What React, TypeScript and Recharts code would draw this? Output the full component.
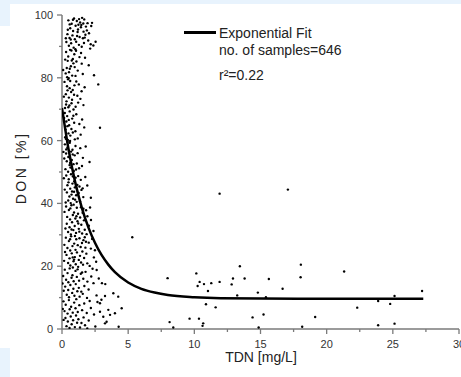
import React from 'react';
import { ScatterChart, Scatter, XAxis, YAxis } from 'recharts';

// Axis ticks (major + minor)
const xTicks = [0, 2.5, 5, 7.5, 10, 12.5, 15, 17.5, 20, 22.5, 25, 27.5, 30];
const yTicks = [0, 10, 20, 30, 40, 50, 60, 70, 80, 90, 100];

// Exponential fit curve
const fitX = [0, 0.5, 1, 1.5, 2, 2.5, 3, 3.5, 4, 5, 6, 7, 8, 10, 12, 15, 20, 27.3];
const fitY = [70.4, 57.1, 46.7, 38.6, 32.3, 27.4, 23.5, 20.5, 18.1, 14.8, 12.8, 11.6, 10.8, 10.1, 9.8, 9.7, 9.65, 9.65];

// Samples, upper part of the dense cluster (DON 60-100 %)
const upperCluster: [number, number][] = [
  [0.48, 98.3], [0.73, 97.2], [0.91, 98.9], [1.12, 98.1], [1.37, 97.6], [1.52, 99.1], [1.68, 98.6], [1.93, 97.4], [2.21, 96.5],
  [0.62, 95.8], [0.84, 94.9], [1.03, 96.6], [1.21, 95.4], [1.43, 96.1], [1.63, 94.7], [1.81, 96.3], [2.04, 94.2], [0.41, 93.9],
  [0.57, 92.7], [0.79, 93.5], [0.97, 92.3], [1.18, 94.6], [1.33, 93.0], [1.58, 92.6], [1.77, 93.7], [1.98, 91.9], [0.33, 91.4],
  [0.52, 90.2], [0.69, 91.0], [0.88, 89.6], [1.07, 91.5], [1.28, 90.5], [1.49, 89.9], [1.66, 91.1], [2.13, 89.3], [0.44, 95.3],
  [0.66, 92.2], [1.14, 93.3], [1.29, 98.7], [1.61, 97.3], [0.83, 98.5], [1.88, 95.1], [0.29, 92.6], [1.01, 89.1], [2.37, 90.3],
  [1.46, 96.8], [1.72, 92.8], [2.17, 90.7], [2.27, 97.5], [2.54, 91.5], [0.58, 97.0], [1.24, 96.9],
  [0.31, 88.2], [0.47, 86.8], [0.61, 88.9], [0.82, 86.0], [0.43, 85.4], [0.67, 83.7], [0.93, 87.5], [1.09, 85.2], [0.36, 83.1],
  [0.53, 81.8], [0.77, 80.7], [0.39, 80.2], [0.96, 83.4], [1.32, 86.6], [1.49, 84.5], [0.71, 88.7], [0.24, 85.8], [1.19, 82.3],
  [1.02, 80.6], [0.59, 82.9], [0.86, 84.6], [1.44, 87.9], [1.74, 86.4], [0.09, 82.5], [0.51, 79.9], [1.57, 81.2], [2.02, 84.0],
  [0.28, 81.4], [0.74, 85.5], [1.06, 88.6], [2.42, 80.8], [2.74, 77.9],
  [0.19, 78.7], [0.38, 77.3], [0.62, 79.0], [0.81, 76.1], [0.29, 74.8], [0.52, 73.7], [0.69, 75.5], [0.94, 77.6], [1.16, 74.3],
  [0.34, 72.5], [0.56, 71.2], [0.76, 73.0], [1.03, 70.8], [0.23, 70.4], [0.46, 79.5], [1.27, 77.9], [1.48, 75.7], [0.87, 69.9],
  [1.22, 72.1], [0.58, 76.7], [0.14, 74.0], [1.39, 73.3], [0.91, 74.6], [0.48, 70.6], [1.71, 77.0], [0.31, 71.5], [1.08, 78.8],
  [0.72, 71.9], [1.62, 71.3], [0.42, 76.0],
  [0.21, 68.8], [0.39, 67.8], [0.58, 69.3], [0.33, 66.1], [0.54, 64.9], [0.77, 67.0], [0.27, 63.5], [0.49, 62.3], [0.71, 63.7],
  [0.92, 65.7], [0.24, 61.1], [0.44, 60.2], [0.63, 61.6], [1.08, 68.4], [1.31, 65.3], [0.82, 62.6], [1.01, 63.0], [1.19, 60.7],
  [0.41, 64.6], [0.16, 67.2], [0.86, 67.9], [1.52, 66.7], [0.61, 59.9], [1.41, 61.9], [0.29, 60.6], [0.97, 60.4], [1.68, 64.2],
  [0.51, 66.6], [2.87, 64.1],
];

// Samples, middle part (DON 30-60 %)
const middleCluster: [number, number][] = [
  [0.22, 58.8], [0.41, 57.7], [0.59, 59.3], [0.79, 57.1], [0.31, 55.9], [0.48, 54.8], [0.69, 56.5], [1.02, 58.3], [0.36, 53.4],
  [0.57, 52.2], [0.74, 53.8], [0.96, 55.3], [1.18, 56.0], [0.26, 50.9], [0.46, 50.1], [0.64, 51.4], [0.87, 52.5], [1.12, 52.7],
  [1.38, 57.6], [1.29, 51.2], [0.17, 54.3], [0.42, 59.6], [0.89, 50.3], [1.58, 54.5], [0.61, 52.9], [1.06, 50.8], [1.51, 51.9],
  [0.32, 57.2], [1.79, 58.1], [0.81, 55.6], [0.11, 56.4], [2.08, 53.2],
  [0.32, 48.9], [0.51, 47.7], [0.68, 49.3], [0.92, 47.0], [0.41, 45.8], [0.62, 44.7], [0.79, 46.3], [1.03, 48.2], [0.37, 43.5],
  [0.56, 42.2], [0.76, 43.8], [0.97, 45.1], [1.16, 45.9], [0.47, 40.9], [0.66, 40.1], [0.84, 41.5], [1.07, 42.6], [1.26, 43.3],
  [1.42, 47.5], [1.36, 40.7], [0.21, 44.4], [1.56, 44.8], [1.22, 48.7], [0.72, 42.8], [1.11, 40.5], [1.61, 42.0], [1.76, 48.4],
  [0.28, 40.3], [0.91, 43.7], [1.47, 44.3], [1.91, 45.7], [0.49, 46.7], [1.32, 45.4], [0.14, 48.0], [2.18, 41.8], [0.82, 48.6],
  [0.99, 41.2],
  [0.31, 39.0], [0.52, 37.9], [0.71, 39.4], [0.91, 37.1], [1.12, 38.6], [0.39, 35.7], [0.61, 34.9], [0.82, 36.3], [1.01, 35.2],
  [1.21, 36.7], [1.43, 38.8], [0.36, 33.5], [0.57, 32.4], [0.76, 34.0], [0.96, 32.8], [1.17, 34.3], [1.37, 35.5], [1.56, 37.0],
  [0.46, 30.9], [0.67, 30.1], [0.86, 31.5], [1.06, 30.6], [1.27, 31.9], [1.46, 33.2], [1.66, 34.6], [1.82, 37.8], [0.19, 37.3],
  [1.52, 30.4], [1.72, 31.6], [1.92, 35.9], [2.03, 32.9], [2.19, 34.7], [0.63, 38.4], [1.31, 31.0], [0.88, 39.6], [1.62, 38.3],
  [0.26, 32.0], [2.38, 31.2], [1.09, 35.9], [0.72, 31.7], [1.86, 30.2], [1.23, 33.6], [2.12, 38.7],
];

// Samples, lower part (DON 0-30 %)
const lowerCluster: [number, number][] = [
  [0.29, 29.1], [0.52, 28.0], [0.69, 29.5], [0.92, 27.2], [1.08, 28.6], [1.32, 28.9], [0.41, 25.8], [0.62, 25.0], [0.79, 26.4],
  [1.02, 25.2], [1.19, 26.7], [1.41, 26.1], [1.62, 28.3], [0.34, 23.6], [0.57, 22.5], [0.74, 24.1], [0.97, 22.9], [1.13, 24.4],
  [1.36, 23.3], [1.54, 24.7], [1.77, 25.9], [0.46, 21.0], [0.63, 20.2], [0.87, 21.6], [1.04, 20.6], [1.27, 22.0], [1.44, 21.2],
  [1.67, 22.6], [1.84, 24.0], [2.02, 27.5], [2.18, 25.6], [2.41, 22.8], [0.18, 26.8], [0.16, 21.7], [1.91, 20.9], [2.09, 20.1],
  [2.58, 21.4], [2.62, 18.8], [1.72, 29.2], [0.61, 28.6], [1.51, 27.4], [1.81, 27.8], [2.28, 28.7], [0.81, 22.8], [1.22, 19.8],
  [0.23, 24.5], [1.59, 20.5], [2.49, 25.1], [0.98, 29.6], [0.91, 22.1],
  [0.21, 18.9], [0.42, 17.8], [0.58, 19.3], [0.79, 17.1], [1.02, 18.5], [1.18, 19.0], [1.42, 17.6], [0.31, 15.7], [0.48, 14.9],
  [0.72, 16.3], [0.88, 15.2], [1.12, 16.6], [1.29, 15.4], [1.61, 16.0], [1.78, 18.2], [0.24, 13.5], [0.47, 12.4], [0.63, 14.0],
  [0.86, 12.8], [1.04, 14.3], [1.27, 13.1], [1.46, 11.9], [1.69, 13.7], [1.92, 15.1], [0.36, 10.9], [0.53, 10.1], [0.77, 11.5],
  [0.94, 10.6], [1.16, 12.0], [1.33, 10.3], [1.57, 11.2], [2.01, 12.6], [2.21, 16.7], [2.38, 14.6], [0.09, 16.9], [0.13, 12.2],
  [2.61, 10.7], [2.87, 8.2], [3.25, 10.5], [3.02, 14.6], [3.27, 14.3], [3.88, 11.4], [4.25, 10.3], [2.31, 19.2], [0.04, 14.5],
  [1.89, 9.9], [0.82, 19.6], [1.52, 18.0], [2.78, 16.1],
  [0.11, 8.8], [0.28, 7.7], [0.52, 9.2], [0.69, 7.1], [0.92, 8.4], [1.08, 9.5], [1.31, 7.6], [0.19, 5.7], [0.42, 4.9],
  [0.58, 6.3], [0.81, 5.2], [1.02, 6.6], [1.19, 5.4], [1.52, 6.0], [1.68, 8.1], [0.26, 3.5], [0.44, 2.4], [0.66, 4.0],
  [0.84, 2.8], [1.06, 4.3], [1.24, 3.1], [1.47, 1.9], [1.63, 3.7], [1.87, 5.1], [0.34, 0.9], [0.57, 0.3], [0.73, 1.5],
  [0.97, 0.6], [1.14, 2.0], [1.36, 0.5], [1.74, 1.2], [2.02, 2.7], [2.18, 6.7], [2.42, 4.6], [0.06, 6.4], [0.12, 2.9],
  [2.09, 8.9], [2.87, 5.5], [3.5, 6.1], [3.63, 4.5], [3.12, 3.9], [3.37, 2.3], [3.25, 1.8], [4.0, 5.0], [4.51, 6.6],
  [2.52, 0.8], [2.68, 8.6], [1.91, 0.2], [2.98, 9.3], [4.28, 0.7],
];

// Sparse samples at high TDN
const sparseTail: [number, number][] = [
  [5.31, 29.2], [11.91, 43.1], [17.07, 44.4], [7.98, 16.2], [10.15, 17.7], [10.25, 13.7], [10.4, 15.0], [10.73, 14.3],
  [11.03, 12.1], [11.28, 14.6], [11.91, 15.0], [10.88, 7.9], [11.61, 6.9], [8.13, 2.2], [8.41, 0.5], [9.64, 3.3],
  [10.35, 3.3], [10.67, 1.8], [10.62, 1.0], [12.82, 14.2], [12.92, 16.1], [13.44, 20.0], [13.24, 10.7], [13.8, 16.1],
  [14.8, 11.6], [14.4, 3.7], [14.86, 0.5], [15.23, 4.6], [15.63, 15.9], [15.41, 10.1], [16.67, 12.8], [18.05, 20.5],
  [18.03, 16.5], [18.15, 0.7], [19.13, 3.8], [21.32, 18.3], [22.31, 6.8], [23.89, 8.9], [23.89, 1.2], [24.8, 8.0],
  [25.13, 10.5], [25.13, 1.7], [27.21, 12.1],
];

const samples = [...upperCluster, ...middleCluster, ...lowerCluster, ...sparseTail].map(([x, y]) => ({ x, y }));
const fitData = fitX.map((x, i) => ({ x, y: fitY[i] }));

const FONT = '"Liberation Sans", Arial, sans-serif';
const AXIS = '#7a7a7a';

const XTick = (props: any) => {
  const { x, y, payload } = props;
  const major = payload.value % 5 === 0;
  return (
    <g>
      <line x1={x} x2={x} y1={y} y2={y + (major ? 5 : 3)} stroke={AXIS} strokeWidth={1.3} />
      {major && (
        <text x={x} y={y + 19} textAnchor="middle" fontSize={11} fill="#333" fontFamily={FONT}>
          {payload.value}
        </text>
      )}
    </g>
  );
};

const YTick = (props: any) => {
  const { x, y, payload } = props;
  const major = payload.value % 20 === 0;
  return (
    <g>
      <line x1={x} x2={x - (major ? 5 : 3)} y1={y} y2={y} stroke={AXIS} strokeWidth={1.3} />
      {major && (
        <text x={x - 9} y={y + 4} textAnchor="end" fontSize={11} fill="#333" fontFamily={FONT}>
          {payload.value}
        </text>
      )}
    </g>
  );
};

const Dot = (p: any) => <circle cx={p.cx} cy={p.cy} r={1.2} fill="#000" />;
const NoShape = () => <g />;

const BLUE = '#e8f3fd';
const legendText: React.CSSProperties = {
  position: 'absolute',
  left: 219,
  fontSize: 14,
  color: '#222',
  lineHeight: '16px',
  whiteSpace: 'nowrap',
};

export default function App() {
  return (
    <div style={{ position: 'absolute', left: 0, top: 0, width: 461, height: 377, background: '#fff', overflow: 'hidden', fontFamily: FONT }}>
      <div style={{ position: 'absolute', left: 0, top: 0, width: 461, height: 4, background: BLUE }} />
      <div style={{ position: 'absolute', left: 0, top: 0, width: 10, height: 26, background: BLUE }} />
      <div style={{ position: 'absolute', left: 0, top: 348, width: 10, height: 29, background: BLUE }} />
      <div style={{ position: 'absolute', left: 0, top: 0 }}>
        <ScatterChart width={461} height={377} margin={{ top: 15, right: 2, bottom: 18, left: 0 }}>
          <XAxis
            type="number"
            dataKey="x"
            domain={[0, 30]}
            ticks={xTicks}
            interval={0}
            height={30}
            tickSize={0}
            tickMargin={0}
            tickLine={false}
            tick={<XTick />}
            axisLine={{ stroke: AXIS, strokeWidth: 1.5 }}
            allowDataOverflow
          />
          <YAxis
            type="number"
            dataKey="y"
            domain={[0, 100]}
            ticks={yTicks}
            interval={0}
            width={62}
            tickSize={0}
            tickMargin={0}
            tickLine={false}
            tick={<YTick />}
            axisLine={{ stroke: AXIS, strokeWidth: 1.5 }}
            allowDataOverflow
          />
          <Scatter data={samples} shape={Dot} isAnimationActive={false} />
          <Scatter
            data={fitData}
            shape={NoShape}
            line={{ stroke: '#000', strokeWidth: 2.5 }}
            lineJointType="monotoneX"
            isAnimationActive={false}
          />
        </ScatterChart>
      </div>
      {/* legend */}
      <div style={{ position: 'absolute', left: 184, top: 31, width: 32, height: 2.5, background: '#000' }} />
      <div style={{ ...legendText, top: 25 }}>Exponential Fit</div>
      <div style={{ ...legendText, top: 42 }}>no. of samples=646</div>
      <div style={{ ...legendText, top: 67 }}>r²=0.22</div>
      {/* axis titles */}
      <div style={{ position: 'absolute', left: 161, top: 349, width: 200, textAlign: 'center', fontSize: 14, color: '#222', lineHeight: '16px' }}>
        TDN [mg/L]
      </div>
      <div
        style={{
          position: 'absolute',
          left: 21,
          top: 168,
          transform: 'translate(-50%, -50%) rotate(-90deg)',
          fontSize: 14,
          letterSpacing: '2.5px',
          color: '#222',
          lineHeight: '16px',
          whiteSpace: 'nowrap',
        }}
      >
        DON [%]
      </div>
    </div>
  );
}
